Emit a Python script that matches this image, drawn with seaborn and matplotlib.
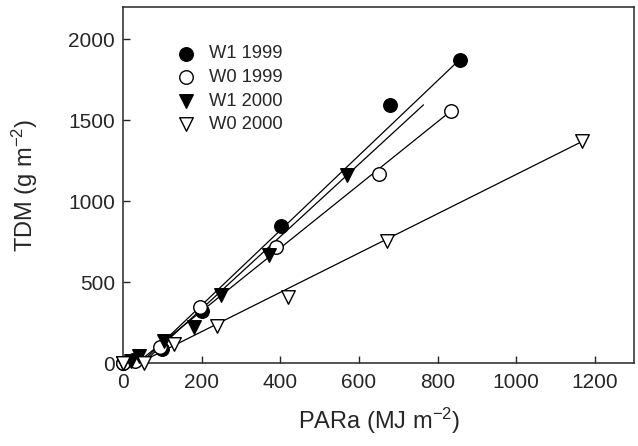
import numpy as np
import pandas as pd
import seaborn as sns
import matplotlib.pyplot as plt

# ---------------------------------------------------------
# Data (PARa in MJ m-2, TDM in g m-2)
# ---------------------------------------------------------
series = ["W1 1999", "W0 1999", "W1 2000", "W0 2000"]

w1_1999_x = [0, 25, 100, 200, 402, 678, 858]
w1_1999_y = [0, 20, 85, 320, 847, 1596, 1875]

w0_1999_x = [0, 30, 95, 195, 390, 650, 835]
w0_1999_y = [0, 15, 100, 345, 720, 1166, 1560]

w1_2000_x = [0, 20, 40, 105, 180, 250, 372, 570]
w1_2000_y = [0, 10, 45, 135, 220, 420, 665, 1160]

w0_2000_x = [0, 52, 130, 240, 420, 670, 1168]
w0_2000_y = [0, 0, 115, 230, 410, 755, 1370]

# regression lines as drawn in the figure: start (y = 0) and end points
line_x0 = [45, 35, 50, 40]
line_x1 = [858, 835, 764, 1168]
line_y1 = [1880, 1560, 1596, 1370]

xs = [w1_1999_x, w0_1999_x, w1_2000_x, w0_2000_x]
ys = [w1_1999_y, w0_1999_y, w1_2000_y, w0_2000_y]

df = pd.concat(
    [pd.DataFrame({"PARa": x, "TDM": y, "series": s}) for s, x, y in zip(series, xs, ys)],
    ignore_index=True,
)
lines = pd.concat(
    [pd.DataFrame({"PARa": [x0, x1], "TDM": [0, y1], "series": s})
     for s, x0, x1, y1 in zip(series, line_x0, line_x1, line_y1)],
    ignore_index=True,
)

# ---------------------------------------------------------
# Plot
# ---------------------------------------------------------
sns.set_style("ticks")
plt.rcParams["font.family"] = ["Liberation Sans", "DejaVu Sans"]
plt.rcParams["mathtext.default"] = "regular"

fig = plt.figure(figsize=(6.38, 4.46), dpi=100)
ax = fig.add_axes([0.193, 0.186, 0.801, 0.798])

for s in series:
    sns.lineplot(data=lines[lines["series"] == s], x="PARa", y="TDM", color="black",
                 linewidth=0.9, ax=ax, legend=False)

markers = {"W1 1999": "o", "W0 1999": "o", "W1 2000": "v", "W0 2000": "v"}
faces = {"W1 1999": "black", "W0 1999": "white", "W1 2000": "black", "W0 2000": "white"}
for s in series:
    sub = df[df["series"] == s]
    sns.scatterplot(data=sub, x="PARa", y="TDM", marker=markers[s], color=faces[s],
                    edgecolor="black", linewidth=1.0, s=95, ax=ax, label=s,
                    clip_on=False, zorder=3)

ax.set_xlim(0, 1300)
ax.set_ylim(0, 2200)
ax.set_xticks(range(0, 1201, 200))
ax.set_yticks(range(0, 2001, 500))
ax.tick_params(direction="in", length=5, width=1, labelsize=15)
ax.tick_params(axis="x", pad=7)
ax.tick_params(axis="y", pad=6)
for sp in ax.spines.values():
    sp.set_linewidth(1.1)
    sp.set_visible(True)

ax.set_xlabel("PARa (MJ m$^{-2}$)", fontsize=17, labelpad=10)
ax.set_ylabel("TDM (g m$^{-2}$)", fontsize=17, labelpad=20)

ax.legend(loc="upper left", bbox_to_anchor=(0.07, 0.918), frameon=False,
          fontsize=13.2, handletextpad=0.25, labelspacing=0.36, borderpad=0)

fig.savefig("out.png", dpi=100)
